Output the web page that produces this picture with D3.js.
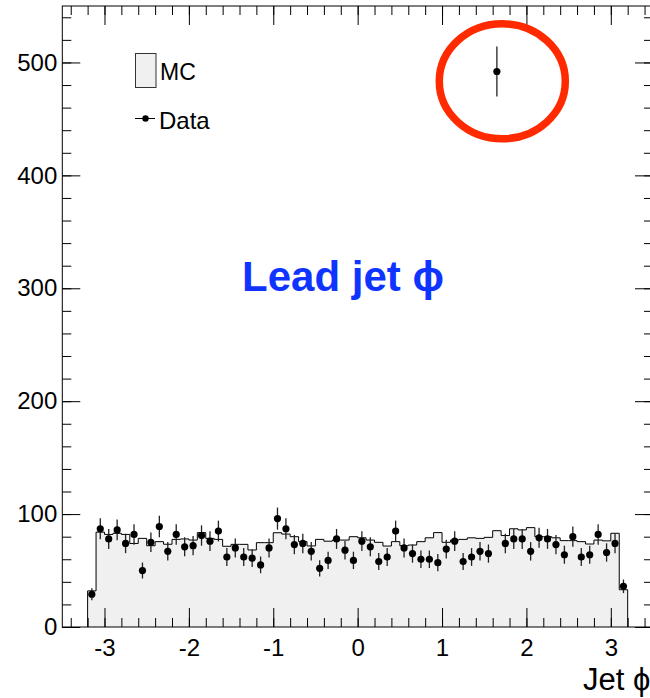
<!DOCTYPE html>
<html>
<head>
<meta charset="utf-8">
<script src="https://cdn.jsdelivr.net/npm/d3@7"></script>
<style>
  html, body { margin: 0; padding: 0; background: #fff; }
  svg { display: block; }
  text { font-family: "Liberation Sans", Arial, Helvetica, sans-serif; }
</style>
</head>
<body>
<svg id="chart" width="650" height="698"></svg>
<script>
// ---- data ----
const binLow = -3.2;
const binWidth = 0.1;
const mcValues = [
  32, 84, 82, 83, 82, 74, 78.5, 72, 75.6, 73.3, 77.6, 78, 77, 83.6, 78.5, 77.6,
  71.5, 73.2, 73.2, 68.2, 74.7, 74.7, 83.5, 82.3, 80, 75.6, 71.8, 77.6, 76, 77, 77, 80,
  79, 77, 75, 71.7, 75.6, 72, 72.6, 75.6, 79, 83.6, 75, 77, 77.6, 79, 78.5, 79.4,
  85.3, 81, 87, 86, 88, 80, 80, 79, 76.5, 76.5, 75.6, 73.5, 77, 76.3, 83, 33
];
const dataValues = [
  29, 87, 78, 86, 74, 82, 50, 75, 89, 67, 82, 71, 72, 81, 76, 85,
  62, 70, 62, 61, 55, 70, 96, 87, 73, 74, 67, 52, 59, 78, 68, 59,
  76, 71, 58, 62, 85, 70, 65, 60, 60, 57, 69, 76, 58, 62, 67, 65,
  492, 74, 78, 78, 67, 79, 78, 73, 64, 80, 62, 64, 82, 66, 74, 36
];
const xTicks = [-3, -2, -1, 0, 1, 2, 3];
const yTicks = [0, 100, 200, 300, 400, 500];
const xDomain = [-3.5, 3.5];
const yDomain = [0, 550];
const titleText = "Lead jet \u03D5";
const xAxisTitle = "Jet \u03D5";
const legendLabels = ["MC", "Data"];

// ---- drawing ----
const svg = d3.select("#chart");
const x = d3.scaleLinear().domain(xDomain).range([62.3, 653]);
const y = d3.scaleLinear().domain(yDomain).range([627, 6]);

const bins = mcValues.map((v, i) => ({
  lo: +(binLow + i * binWidth).toFixed(4),
  hi: +(binLow + (i + 1) * binWidth).toFixed(4),
  mc: v,
  data: dataValues[i]
}));

// MC histogram step points
const stepPts = [];
stepPts.push([bins[0].lo, 0]);
bins.forEach(b => { stepPts.push([b.lo, b.mc]); stepPts.push([b.hi, b.mc]); });
stepPts.push([bins[bins.length - 1].hi, 0]);

const area = d3.area().x(d => x(d[0])).y0(y(0)).y1(d => y(d[1]));
const line = d3.line().x(d => x(d[0])).y(d => y(d[1]));

svg.append("path").attr("d", area(stepPts)).attr("fill", "#f0f0f0").attr("stroke", "none");
svg.append("path").attr("d", line(stepPts)).attr("fill", "none").attr("stroke", "#000").attr("stroke-width", 1);

// axes
function styleAxis(g) {
  g.selectAll(".domain").remove();
  g.selectAll(".tick line").attr("stroke", "#000").attr("stroke-width", 1);
  g.selectAll("text").attr("fill", "#000").style("font-size", "24px")
    .style("font-family", '"Liberation Sans", Arial, Helvetica, sans-serif');
}
const xMinor = d3.range(-34, 35, 2).map(d => d / 10);
const yMinor = d3.range(0, 551, 20);

// bottom
svg.append("g").attr("transform", `translate(0,${y(0)})`)
  .call(d3.axisBottom(x).tickValues(xMinor).tickSize(-9).tickFormat(""))
  .call(styleAxis);
svg.append("g").attr("transform", `translate(0,${y(0)})`)
  .call(d3.axisBottom(x).tickValues(xTicks).tickSize(-19).tickPadding(12).tickFormat(d => String(d)))
  .call(styleAxis);
// top
svg.append("g").attr("transform", `translate(0,${y(550)})`)
  .call(d3.axisTop(x).tickValues(xMinor).tickSize(-9).tickFormat(""))
  .call(styleAxis);
svg.append("g").attr("transform", `translate(0,${y(550)})`)
  .call(d3.axisTop(x).tickValues(xTicks).tickSize(-19).tickFormat(""))
  .call(styleAxis);
// left
svg.append("g").attr("transform", `translate(${x(-3.5)},0)`)
  .call(d3.axisLeft(y).tickValues(yMinor).tickSize(-9).tickFormat(""))
  .call(styleAxis);
svg.append("g").attr("transform", `translate(${x(-3.5)},0)`)
  .call(d3.axisLeft(y).tickValues(yTicks).tickSize(-18).tickPadding(5).tickFormat(d => String(d)))
  .call(styleAxis);
// right
svg.append("g").attr("transform", `translate(${x(3.5)},0)`)
  .call(d3.axisRight(y).tickValues(yMinor).tickSize(-9).tickFormat(""))
  .call(styleAxis);
svg.append("g").attr("transform", `translate(${x(3.5)},0)`)
  .call(d3.axisRight(y).tickValues(yTicks).tickSize(-18).tickFormat(""))
  .call(styleAxis);

// frame
svg.append("rect")
  .attr("x", x(-3.5)).attr("y", y(550))
  .attr("width", x(3.5) - x(-3.5)).attr("height", y(0) - y(550))
  .attr("fill", "none").attr("stroke", "#000").attr("stroke-width", 1);

// data points with error bars
const pts = svg.append("g");
bins.forEach(b => {
  const cx = x((b.lo + b.hi) / 2);
  const err = Math.sqrt(b.data);
  pts.append("line")
    .attr("x1", cx).attr("x2", cx)
    .attr("y1", y(b.data - err)).attr("y2", y(b.data + err))
    .attr("stroke", "#222").attr("stroke-width", 1.3);
  pts.append("circle").attr("cx", cx).attr("cy", y(b.data)).attr("r", 3.6).attr("fill", "#000");
});

// legend
const lg = svg.append("g");
lg.append("rect").attr("x", 135.5).attr("y", 53.5).attr("width", 20.5).attr("height", 34)
  .attr("fill", "#f0f0f0").attr("stroke", "#333").attr("stroke-width", 1);
lg.append("text").attr("x", 160).attr("y", 80).style("font-size", "23px").attr("fill", "#000").text(legendLabels[0]);
lg.append("line").attr("x1", 135).attr("x2", 155).attr("y1", 118.5).attr("y2", 118.5).attr("stroke", "#000").attr("stroke-width", 1);
lg.append("circle").attr("cx", 145.5).attr("cy", 118.5).attr("r", 3.2).attr("fill", "#000");
lg.append("text").attr("x", 159).attr("y", 128.5).style("font-size", "24px").attr("fill", "#000").text(legendLabels[1]);

// title annotation
svg.append("text").attr("x", 343).attr("y", 291).attr("text-anchor", "middle")
  .style("font-size", "42px").style("font-weight", "bold").attr("fill", "#1034ff").text(titleText);

// x axis title
svg.append("text").attr("x", 583).attr("y", 690).attr("text-anchor", "start")
  .style("font-size", "31px").attr("fill", "#000").text(xAxisTitle);

// red circle annotation
svg.append("ellipse").attr("cx", 502.3).attr("cy", 81.3).attr("rx", 63).attr("ry", 57.5)
  .attr("fill", "none").attr("stroke", "#ff2a00").attr("stroke-width", 7.5);
</script>
</body>
</html>
